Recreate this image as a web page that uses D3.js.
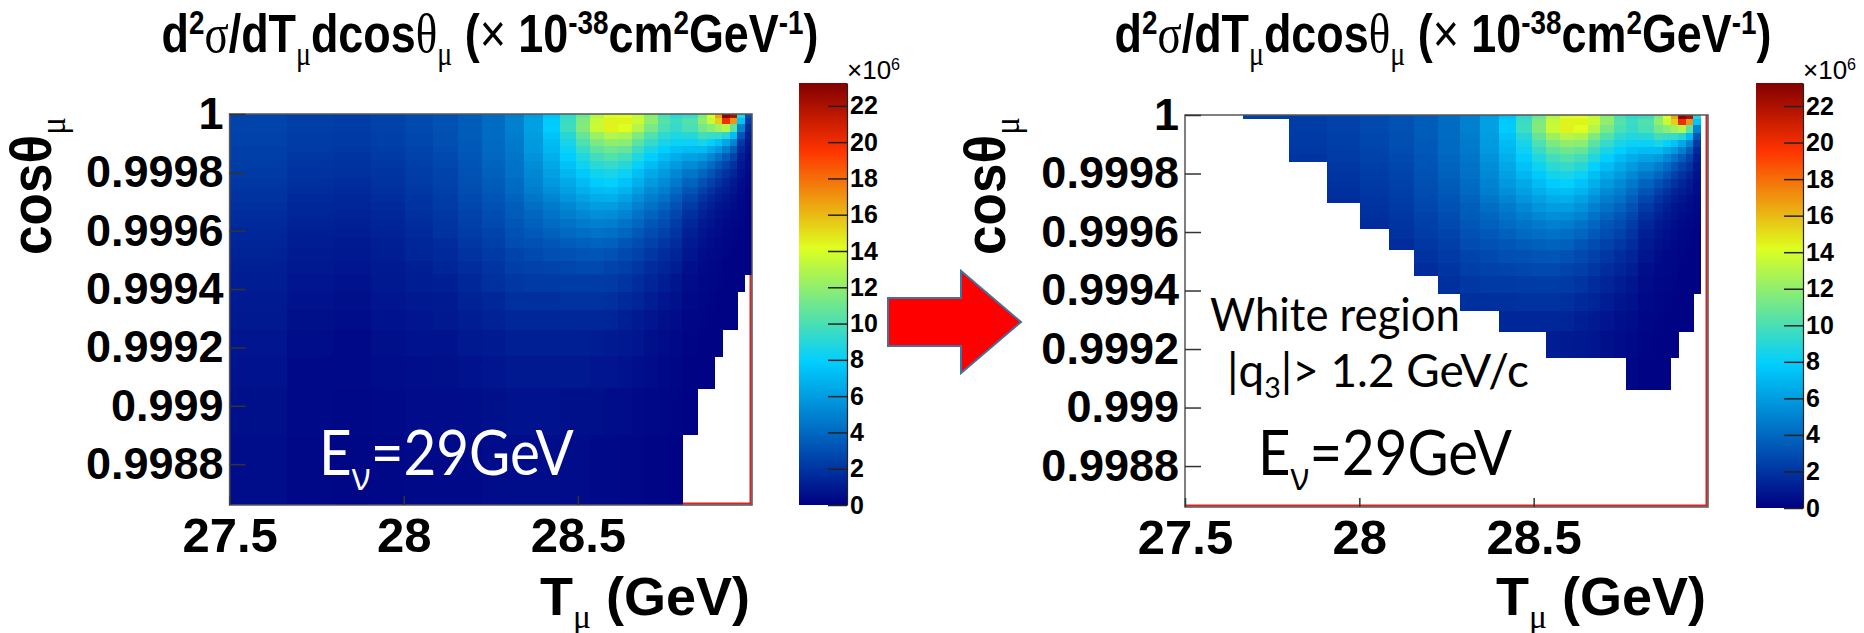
<!DOCTYPE html>
<html>
<head>
<meta charset="utf-8">
<script src="https://cdn.jsdelivr.net/npm/d3@7"></script>
<style>
  body { margin: 0; background: #fff; }
  svg { display: block; }
</style>
</head>
<body>
<script>
// T_mu bin edges (GeV), variable width
const tEdges = [27.5, 27.666, 27.798, 27.907, 28.003, 28.084, 28.157, 28.225, 28.29, 28.345,
  28.4, 28.45, 28.495, 28.535, 28.575, 28.615, 28.655, 28.69, 28.73, 28.765,
  28.8, 28.845, 28.87, 28.893, 28.915, 28.937, 28.958, 28.98, 29.0];

// cos(theta_mu) bin edges, top (1) to bottom
const cosEdges = [1, 0.999986, 0.999965, 0.99994, 0.999915, 0.99989, 0.999865, 0.99984, 0.99981,
  0.99978, 0.99975, 0.999725, 0.9997, 0.99967, 0.99964, 0.99961, 0.999575, 0.99954, 0.999495,
  0.99945, 0.99939, 0.99933, 0.99926, 0.99917, 0.99906, 0.9989, 0.99866];

// cross section per T bin (one array per column, rows top to bottom), units of 1e6
const zCols = [
  [2.6, 2.6, 2.6, 2.5, 2.5, 2.4, 2.4, 2.3, 2.2, 2.1, 2.0, 1.9, 1.8, 1.7, 1.6, 1.5, 1.4, 1.3, 1.2, 1.1, 1.0, 0.9, 0.8, 0.7, 0.6, 0.5],
  [2.4, 2.4, 2.4, 2.3, 2.3, 2.2, 2.1, 2.0, 1.9, 1.8, 1.7, 1.6, 1.5, 1.4, 1.3, 1.2, 1.1, 1.0, 0.9, 0.8, 0.7, 0.6, 0.5, 0.4, 0.35, 0.3],
  [2.3, 2.3, 2.3, 2.2, 2.2, 2.1, 2.0, 1.9, 1.8, 1.7, 1.6, 1.5, 1.4, 1.3, 1.2, 1.1, 1.0, 0.9, 0.8, 0.7, 0.6, 0.5, 0.4, 0.35, 0.3, 0.25],
  [2.5, 2.5, 2.5, 2.4, 2.4, 2.3, 2.2, 2.1, 2.0, 1.9, 1.8, 1.7, 1.6, 1.5, 1.4, 1.3, 1.2, 1.1, 1.0, 0.9, 0.8, 0.7, 0.6, 0.5, 0.4, 0.3],
  [2.8, 2.8, 2.8, 2.7, 2.7, 2.6, 2.5, 2.4, 2.3, 2.2, 2.1, 2.0, 1.9, 1.8, 1.7, 1.6, 1.5, 1.4, 1.2, 1.1, 0.9, 0.8, 0.7, 0.55, 0.45, 0.35],
  [3.1, 3.1, 3.1, 3.0, 3.0, 2.9, 2.8, 2.7, 2.6, 2.5, 2.4, 2.3, 2.2, 2.1, 2.0, 1.9, 1.7, 1.6, 1.4, 1.2, 1.0, 0.9, 0.7, 0.6, 0.45, 0.35],
  [3.5, 3.5, 3.5, 3.5, 3.4, 3.4, 3.3, 3.2, 3.1, 3.0, 2.9, 2.8, 2.7, 2.5, 2.4, 2.3, 2.1, 1.9, 1.7, 1.5, 1.3, 1.1, 0.9, 0.7, 0.5, 0.4],
  [4.1, 4.1, 4.1, 4.1, 4.0, 4.0, 3.9, 3.8, 3.7, 3.5, 3.4, 3.2, 3.1, 2.9, 2.8, 2.6, 2.4, 2.2, 2.0, 1.8, 1.5, 1.3, 1.0, 0.8, 0.6, 0.45],
  [4.8, 4.9, 4.9, 4.8, 4.7, 4.6, 4.5, 4.4, 4.3, 4.1, 4.0, 3.8, 3.6, 3.5, 3.3, 3.1, 2.9, 2.6, 2.4, 2.1, 1.8, 1.5, 1.2, 0.9, 0.7, 0.5],
  [6.0, 6.1, 6.1, 6.0, 5.9, 5.8, 5.6, 5.4, 5.2, 5.0, 4.8, 4.5, 4.2, 3.9, 3.7, 3.4, 3.1, 2.8, 2.5, 2.2, 1.8, 1.5, 1.2, 0.9, 0.7, 0.5],
  [7.5, 7.7, 7.8, 7.5, 7.2, 7.0, 6.7, 6.4, 6.1, 5.8, 5.5, 5.1, 4.7, 4.4, 4.1, 3.7, 3.3, 3.0, 2.6, 2.2, 1.8, 1.5, 1.2, 0.9, 0.7, 0.5],
  [9.3, 9.6, 9.7, 9.0, 8.6, 8.2, 7.8, 7.4, 7.0, 6.5, 6.1, 5.7, 5.2, 4.8, 4.4, 4.0, 3.5, 3.1, 2.7, 2.3, 1.9, 1.5, 1.2, 0.9, 0.6, 0.45],
  [11.0, 11.5, 11.6, 10.8, 10.1, 9.5, 8.8, 8.3, 7.7, 7.2, 6.7, 6.2, 5.7, 5.2, 4.7, 4.2, 3.7, 3.2, 2.8, 2.3, 1.9, 1.5, 1.2, 0.9, 0.6, 0.45],
  [13.0, 13.5, 13.6, 12.3, 11.4, 10.6, 9.8, 9.1, 8.4, 7.8, 7.2, 6.6, 6.0, 5.5, 4.9, 4.4, 3.8, 3.3, 2.8, 2.3, 1.9, 1.5, 1.1, 0.8, 0.6, 0.4],
  [14.0, 14.5, 14.5, 13.0, 12.0, 11.0, 10.2, 9.4, 8.6, 8.0, 7.3, 6.7, 6.0, 5.4, 4.8, 4.2, 3.7, 3.1, 2.6, 2.2, 1.8, 1.4, 1.0, 0.8, 0.5, 0.35],
  [14.2, 14.5, 14.2, 12.8, 11.8, 10.8, 9.8, 9.0, 8.2, 7.5, 6.9, 6.2, 5.6, 5.0, 4.4, 3.9, 3.3, 2.8, 2.4, 2.0, 1.6, 1.2, 0.9, 0.7, 0.45, 0.3],
  [13.5, 13.6, 13.0, 11.5, 10.5, 9.6, 8.8, 8.0, 7.3, 6.7, 6.1, 5.5, 4.9, 4.4, 3.9, 3.4, 2.9, 2.5, 2.1, 1.7, 1.4, 1.0, 0.8, 0.6, 0.4, 0.3],
  [11.8, 12.0, 11.3, 10.2, 9.4, 8.6, 7.9, 7.2, 6.5, 5.9, 5.3, 4.8, 4.3, 3.8, 3.3, 2.9, 2.5, 2.1, 1.7, 1.4, 1.1, 0.8, 0.6, 0.45, 0.3, 0.2],
  [10.0, 10.3, 10.0, 9.2, 8.6, 7.9, 7.2, 6.5, 5.9, 5.3, 4.8, 4.3, 3.8, 3.3, 2.9, 2.5, 2.1, 1.7, 1.4, 1.1, 0.8, 0.6, 0.45, 0.35, 0.25, 0.2],
  [9.2, 9.6, 9.4, 8.8, 8.2, 7.4, 6.6, 5.9, 5.2, 4.6, 4.1, 3.6, 3.1, 2.7, 2.3, 2.0, 1.7, 1.4, 1.1, 0.85, 0.65, 0.5, 0.35, 0.25, 0.2, 0.15],
  [9.6, 10.2, 10.0, 9.0, 8.2, 7.2, 6.2, 5.3, 4.5, 3.8, 3.2, 2.7, 2.2, 1.8, 1.5, 1.2, 1.0, 0.8, 0.6, 0.45, 0.35, 0.25, 0.2, 0.15, 0.1, 0.1],
  [11.5, 12.0, 11.2, 9.8, 8.6, 7.2, 5.9, 4.8, 3.9, 3.1, 2.5, 2.0, 1.6, 1.3, 1.0, 0.8, 0.65, 0.5, 0.4, 0.3, 0.25, 0.2, 0.15, 0.1, 0.1, 0.1],
  [14.0, 13.5, 11.8, 9.6, 8.0, 6.5, 5.2, 4.1, 3.2, 2.5, 1.9, 1.5, 1.2, 0.9, 0.75, 0.6, 0.5, 0.4, 0.3, 0.25, 0.2, 0.15, 0.1, 0.1, 0.1, 0.1],
  [16.5, 15.5, 12.5, 9.5, 7.4, 5.8, 4.4, 3.3, 2.5, 1.9, 1.4, 1.1, 0.85, 0.7, 0.55, 0.45, 0.35, 0.3, 0.25, 0.2, 0.15, 0.1, 0.1, 0.1, 0.1, 0.1],
  [23.0, 20.0, 13.0, 9.0, 6.4, 4.8, 3.5, 2.6, 1.9, 1.4, 1.1, 0.85, 0.65, 0.5, 0.4, 0.3, 0.25, 0.2, 0.15, 0.1, 0.1, 0.1, 0.1, 0.1, 0.1, 0.1],
  [22.0, 17.0, 10.5, 7.2, 5.0, 3.6, 2.6, 1.9, 1.4, 1.0, 0.8, 0.6, 0.45, 0.35, 0.3, 0.25, 0.2, 0.15, 0.1, 0.1, 0.1, 0.1, 0.1, 0.1, 0.1, 0.1],
  [9.0, 7.5, 5.0, 3.2, 2.2, 1.6, 1.2, 0.9, 0.7, 0.55, 0.45, 0.35, 0.3, 0.25, 0.2, 0.15, 0.1, 0.1, 0.1, 0.1, 0.1, 0.1, 0.1, 0.1, 0.1, 0.1],
  [3.0, 2.2, 1.6, 1.2, 0.9, 0.7, 0.55, 0.45, 0.35, 0.3, 0.25, 0.2, 0.15, 0.1, 0.1, 0.1, 0.1, 0.1, 0.1, 0.1, 0.1, 0.1, 0.1, 0.1, 0.1, 0.1]
];

// number of filled rows (from the top) per column in each panel
const leftRows = [26, 26, 26, 26, 26, 26, 26, 26, 26, 26, 26, 26, 26, 26, 26, 26, 26, 26, 26, 26, 25, 24, 24, 23, 22, 22, 20, 19];
const rightRows = [0, 1, 7, 12, 15, 17, 19, 20, 21, 21, 22, 22, 22, 23, 23, 23, 23, 23, 23, 24, 24, 24, 24, 23, 22, 22, 20, 0];

// axis ticks
const tTicks = [27.5, 28, 28.5];
const cosTicks = [0.9988, 0.999, 0.9992, 0.9994, 0.9996, 0.9998, 1];
const cosTickLabels = ['0.9988', '0.999', '0.9992', '0.9994', '0.9996', '0.9998', '1'];
const zTicks = [0, 2, 4, 6, 8, 10, 12, 14, 16, 18, 20, 22];
const zMax = 23.26;

// ROOT style palette
const paletteStops = [0, 0.34, 0.61, 0.84, 1];
const paletteColors = ['#000082', '#00cfff', '#deff1f', '#ff3300', '#820000'];

const sansBold = '"Liberation Sans", Arial, Helvetica, sans-serif';
const serif = '"Liberation Serif", "Times New Roman", serif';
const slideFont = 'Lato, "Open Sans", sans-serif';

const svg = d3.select('body').append('svg')
    .attr('width', 1864)
    .attr('height', 633);

const color = d3.scaleLinear()
    .domain(paletteStops.map(s => s * zMax))
    .range(paletteColors)
    .clamp(true);

// Write a string with sub/superscripts into a text element
function richText(text, parts, size) {
    let shift = 0;
    parts.forEach(p => {
        const target = p.sup ? -0.34 * size : (p.sub ? 0.24 * size : 0);
        const ts = text.append('tspan').text(p.t).attr('dy', target - shift);
        shift = target;
        if (p.sup || p.sub) ts.attr('font-size', size * 0.62);
        if (p.greek) ts.attr('font-family', p.font || serif).attr('font-weight', p.bold ? 'bold' : 'normal');
        if (p.thin) ts.attr('font-weight', 'normal');
    });
}

// Place a text group and squeeze it so it spans the given length
function placeText(parts, opt) {
    const g = svg.append('g');
    const text = g.append('text')
        .attr('font-family', opt.font)
        .attr('font-weight', opt.weight || 'bold')
        .attr('font-size', opt.size)
        .attr('fill', opt.fill || '#000')
        .attr('text-anchor', opt.anchor || 'start');
    richText(text, parts, opt.size);
    const w = text.node().getBBox().width;
    const k = opt.length ? opt.length / w : 1;
    g.attr('transform', `translate(${opt.x},${opt.y}) rotate(${opt.rotate || 0}) scale(${k},1)`);
    return g;
}

const titleParts = [
    {t: 'd'}, {t: '2', sup: true}, {t: 'σ', greek: true}, {t: '/dT'}, {t: 'μ', sub: true, greek: true},
    {t: 'dcos'}, {t: 'θ', greek: true}, {t: 'μ', sub: true, greek: true}, {t: ' ('}, {t: '×', thin: true},
    {t: ' 10'}, {t: '-38', sup: true}, {t: 'cm'}, {t: '2', sup: true}, {t: 'GeV'}, {t: '-1', sup: true}, {t: ')'}
];

const panels = [
    {x0: 229.6, x1: 752, y0: 114, y1: 505, rows: leftRows, titleX: 490,
     cb: {x: 799, w: 48, top: 83, bot: 505}, yTitleX: 51, label: {x: 319, fill: '#fff', len: 255}},
    {x0: 1185, x1: 1708, y0: 115, y1: 507, rows: rightRows, titleX: 1443,
     cb: {x: 1756, w: 47, top: 83, bot: 508}, yTitleX: 1005, label: {x: 1258, fill: '#000', len: 254}}
];

function drawPanel(p, idx) {
    const x = d3.scaleLinear().domain([tEdges[0], tEdges[tEdges.length - 1]]).range([p.x0, p.x1]);
    const y = d3.scaleLinear().domain([cosEdges[cosEdges.length - 1], cosEdges[0]]).range([p.y1, p.y0]);
    const g = svg.append('g');

    // red lines on the bottom and right side of the frame
    g.append('path')
        .attr('d', `M${p.x0},${p.y1 - 1.5}H${p.x1 - 1.5}V${p.y0}`)
        .attr('fill', 'none')
        .attr('stroke', '#e02020')
        .attr('stroke-width', 2);

    // heat map cells
    const cells = [];
    zCols.forEach((col, i) => {
        col.forEach((v, j) => {
            if (j < p.rows[i]) cells.push({i, j, v});
        });
    });
    g.append('g').selectAll('rect')
        .data(cells)
        .enter().append('rect')
        .attr('x', d => x(tEdges[d.i]))
        .attr('y', d => y(cosEdges[d.j]))
        .attr('width', d => x(tEdges[d.i + 1]) - x(tEdges[d.i]) + 0.4)
        .attr('height', d => y(cosEdges[d.j + 1]) - y(cosEdges[d.j]) + 0.4)
        .attr('fill', d => color(d.v))
        .attr('shape-rendering', 'crispEdges');

    // frame
    g.append('rect')
        .attr('x', p.x0).attr('y', p.y0)
        .attr('width', p.x1 - p.x0).attr('height', p.y1 - p.y0)
        .attr('fill', 'none')
        .attr('stroke', '#555')
        .attr('stroke-width', 1.5);

    // axes
    const xAxis = d3.axisBottom(x).tickValues(tTicks).tickFormat(d3.format(''))
        .tickSizeInner(-9).tickSizeOuter(0).tickPadding(12);
    g.append('g').attr('transform', `translate(0,${p.y1})`).call(xAxis)
        .call(a => a.select('.domain').remove())
        .attr('font-family', sansBold).attr('font-weight', 'bold').attr('font-size', 49)
        .call(a => a.selectAll('line').attr('stroke', '#333').attr('stroke-width', 1.5));

    const yAxis = d3.axisLeft(y).tickValues(cosTicks).tickFormat((d, i) => cosTickLabels[i])
        .tickSizeInner(-16).tickSizeOuter(0).tickPadding(6);
    g.append('g').attr('transform', `translate(${p.x0},0)`).call(yAxis)
        .call(a => a.select('.domain').remove())
        .attr('font-family', sansBold).attr('font-weight', 'bold').attr('font-size', 45)
        .call(a => a.selectAll('line').attr('stroke', '#333').attr('stroke-width', 1.5));

    // colour bar
    const z = d3.scaleLinear().domain([0, zMax]).range([p.cb.bot, p.cb.top]);
    const gradId = 'pal' + idx;
    const grad = svg.append('defs').append('linearGradient')
        .attr('id', gradId)
        .attr('x1', 0).attr('y1', 1).attr('x2', 0).attr('y2', 0);
    grad.selectAll('stop')
        .data(paletteStops)
        .enter().append('stop')
        .attr('offset', d => d)
        .attr('stop-color', d => color(d * zMax));
    g.append('rect')
        .attr('x', p.cb.x).attr('y', p.cb.top)
        .attr('width', p.cb.w).attr('height', p.cb.bot - p.cb.top)
        .attr('fill', `url(#${gradId})`);
    const zAxis = d3.axisRight(z).tickValues(zTicks).tickSizeInner(-19).tickSizeOuter(0).tickPadding(3);
    g.append('g').attr('transform', `translate(${p.cb.x + p.cb.w},0)`).call(zAxis)
        .attr('font-family', sansBold).attr('font-weight', 'bold').attr('font-size', 25)
        .call(a => a.selectAll('line').attr('stroke', '#222').attr('stroke-width', 1.5))
        .call(a => a.select('.domain').attr('stroke', '#222').attr('stroke-width', 1.2));

    placeText([{t: '×10'}, {t: '6', sup: true}],
        {font: sansBold, weight: 'normal', size: 26, x: p.cb.x + p.cb.w, y: 79});

    // titles
    placeText(titleParts, {font: sansBold, size: 54, anchor: 'middle', x: p.titleX, y: 52, length: 657});
    placeText([{t: 'T'}, {t: 'μ', sub: true, greek: true}, {t: ' (GeV)'}],
        {font: sansBold, size: 54, anchor: 'end', x: p.x1 - 2, y: 615, length: 210});
    placeText([{t: 'cos'}, {t: 'θ', greek: true, bold: true, font: sansBold}, {t: 'μ', sub: true, greek: true}],
        {font: sansBold, size: 58, anchor: 'middle', x: p.yTitleX, y: 186, rotate: -90, length: 138});

    // beam energy label
    placeText([{t: 'E'}, {t: 'ν', sub: true, greek: true, font: '"Open Sans", sans-serif'}, {t: '=29GeV'}],
        {font: slideFont, weight: 'normal', size: 62, x: p.label.x, y: 475, fill: p.label.fill, length: p.label.len});
}

panels.forEach(drawPanel);

// notes on the right panel
placeText([{t: 'White region'}], {font: slideFont, weight: 'normal', size: 47, x: 1210, y: 331, length: 250});
placeText([{t: '|q'}, {t: '3', sub: true}, {t: '|> 1.2 GeV/c'}],
    {font: slideFont, weight: 'normal', size: 47, x: 1227, y: 387, length: 302});

// arrow between the panels
svg.append('path')
    .attr('d', 'M888,298 H961 V271 L1021,322 L961,373 V346 H888 Z')
    .attr('fill', '#ff0000')
    .attr('stroke', '#41719c')
    .attr('stroke-width', 2);
</script>
</body>
</html>
